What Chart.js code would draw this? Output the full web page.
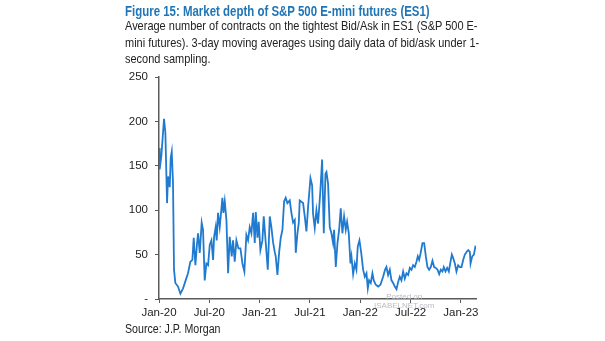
<!DOCTYPE html>
<html>
<head>
<meta charset="utf-8">
<script src="https://cdn.jsdelivr.net/npm/chart.js@4.4.0/dist/chart.umd.min.js"></script>
<style>
  body { margin: 0; background: #fff; }
  #wrap { position: relative; width: 605px; height: 341px; overflow: hidden; font-family: 'Liberation Sans', Arial, sans-serif; }
  #chart { position: absolute; left: 0; top: 0; }
  .txt { position: absolute; white-space: nowrap; transform-origin: 0 0; }
  #title { left: 125px; top: 3px; font-size: 14.5px; font-weight: bold; color: #1f75b6; transform: scaleX(0.79); }
  #sub { left: 125px; top: 18px; font-size: 13px; line-height: 16.7px; color: #222; transform: scaleX(0.845); }
  #source { left: 125px; top: 322px; font-size: 12.5px; color: #222; transform: scaleX(0.85); }
  #mark { left: 374px; top: 292px; font-size: 8px; line-height: 9px; color: #b8bcc4; text-align: center; }
</style>
</head>
<body>
<div id="wrap">
  <canvas id="chart" width="605" height="341"></canvas>
  <div id="title" class="txt">Figure 15: Market depth of S&amp;P 500 E-mini futures (ES1)</div>
  <div id="sub" class="txt">Average number of contracts on the tightest Bid/Ask in ES1 (S&amp;P 500 E-<br>mini futures). 3-day moving averages using daily data of bid/ask under 1-<br>second sampling.</div>
  <div id="source" class="txt">Source: J.P. Morgan</div>
  <div id="mark" class="txt">Posted on<br>ISABELNET.com</div>
</div>
<script>
// months since Jan-20 and average contracts on tightest bid/ask
const months = [
  0.00, 0.08, 0.28, 0.60, 0.76, 0.96, 1.08, 1.28, 1.40, 1.52, 1.67, 1.79, 1.95, 2.27, 2.55, 2.87,
  3.18, 3.46, 3.74, 3.98, 4.14, 4.34, 4.54, 4.66, 4.86, 5.09, 5.25, 5.45, 5.65, 5.85, 6.05, 6.25,
  6.45, 6.57, 6.76, 6.88, 7.04, 7.24, 7.36, 7.56, 7.68, 7.84, 8.04, 8.24, 8.43, 8.67, 8.83, 9.03,
  9.23, 9.47, 9.71, 9.95, 10.18, 10.42, 10.62, 10.82, 11.02, 11.22, 11.42, 11.54, 11.74, 11.89, 12.09, 12.33,
  12.49, 12.73, 12.97, 13.21, 13.40, 13.60, 13.80, 13.92, 14.12, 14.32, 14.52, 14.72, 14.92, 15.11, 15.31, 15.59,
  15.79, 15.99, 16.19, 16.31, 16.51, 16.67, 16.78, 17.18, 17.38, 17.58, 17.78, 18.06, 18.26, 18.37, 18.57, 18.77,
  18.97, 19.25, 19.45, 19.65, 19.85, 19.97, 20.16, 20.36, 20.56, 20.76, 20.88, 21.08, 21.28, 21.48, 21.67, 21.87,
  22.07, 22.27, 22.43, 22.63, 22.83, 22.95, 23.15, 23.35, 23.54, 23.70, 23.90, 24.10, 24.34, 24.54, 24.74, 24.90,
  25.05, 25.25, 25.45, 25.61, 25.85, 26.13, 26.41, 26.72, 26.96, 27.12, 27.32, 27.52, 27.72, 27.92, 28.12, 28.32,
  28.51, 28.71, 28.91, 29.11, 29.31, 29.51, 29.71, 29.91, 30.11, 30.30, 30.50, 30.70, 30.86, 31.02, 31.18, 31.42,
  31.62, 31.82, 32.01, 32.21, 32.41, 32.61, 32.81, 33.01, 33.21, 33.41, 33.60, 33.80, 33.96, 34.16, 34.36, 34.56,
  34.76, 34.92, 35.08, 35.28, 35.47, 35.67, 35.87, 36.07, 36.27, 36.47, 36.67, 36.87, 37.07, 37.15, 37.35, 37.55,
  37.75
];
const depth = [
  170, 146, 161, 203, 187, 108, 138, 126, 159, 166, 131, 33, 18, 14, 6, 12,
  21, 29, 42, 44, 69, 38, 63, 74, 52, 86, 78, 21, 40, 38, 61, 66,
  44, 70, 81, 66, 97, 81, 93, 114, 97, 110, 89, 29, 70, 48, 66, 42,
  66, 57, 57, 40, 31, 72, 66, 81, 74, 97, 63, 98, 69, 87, 55, 66,
  93, 63, 33, 93, 81, 64, 53, 48, 27, 52, 69, 78, 110, 114, 108, 111,
  97, 86, 89, 52, 74, 86, 111, 108, 93, 76, 104, 136, 128, 96, 80, 100,
  85, 123, 157, 74, 141, 143, 130, 81, 74, 63, 78, 36, 63, 78, 102, 74,
  93, 78, 87, 74, 40, 48, 28, 40, 33, 59, 66, 53, 33, 25, 29, 12,
  21, 18, 29, 21, 16, 14, 16, 25, 33, 36, 27, 33, 21, 18, 14, 11,
  19, 25, 21, 31, 23, 29, 27, 35, 33, 38, 36, 42, 48, 44, 51, 63,
  63, 48, 36, 33, 36, 43, 36, 35, 33, 28, 33, 31, 36, 31, 35, 31,
  42, 50, 46, 40, 31, 38, 36, 36, 44, 50, 53, 55, 53, 40, 48, 50,
  60
];
const tickLabels = ['Jan-20', 'Jul-20', 'Jan-21', 'Jul-21', 'Jan-22', 'Jul-22', 'Jan-23'];

const points = months.map((m, i) => ({ x: m, y: depth[i] }));
const axisColor = '#5a5a5a';
const tickFont = { family: "'Liberation Sans', Arial, sans-serif", size: 11.5 };

new Chart(document.getElementById('chart'), {
  type: 'line',
  data: {
    datasets: [{
      data: points,
      borderColor: '#1f7ad0',
      borderWidth: 1.8,
      pointRadius: 0,
      tension: 0,
      fill: false
    }]
  },
  options: {
    responsive: false,
    animation: false,
    plugins: { legend: { display: false }, tooltip: { enabled: false } },
    layout: { padding: { left: 109, right: 129, top: 77, bottom: 12 } },
    scales: {
      x: {
        type: 'linear',
        min: 0,
        max: 37.8,
        afterBuildTicks: s => { s.ticks = tickLabels.map((l, i) => ({ value: i * 6 })); },
        afterFit: s => { s.height = 30; },
        ticks: {
          callback: v => tickLabels[v / 6],
          color: '#222',
          font: tickFont,
          maxRotation: 0,
          padding: 3
        },
        grid: { drawOnChartArea: false, drawTicks: true, tickLength: 4, color: axisColor },
        border: { color: axisColor, width: 1.5 }
      },
      y: {
        min: 0,
        max: 250,
        afterFit: s => { s.width = 50; },
        ticks: {
          stepSize: 50,
          callback: v => v === 0 ? '-' : v,
          color: '#222',
          font: tickFont,
          padding: 7
        },
        grid: { drawOnChartArea: false, drawTicks: true, tickLength: 4, color: axisColor },
        border: { color: axisColor, width: 1.5 }
      }
    }
  }
});
</script>
</body>
</html>
